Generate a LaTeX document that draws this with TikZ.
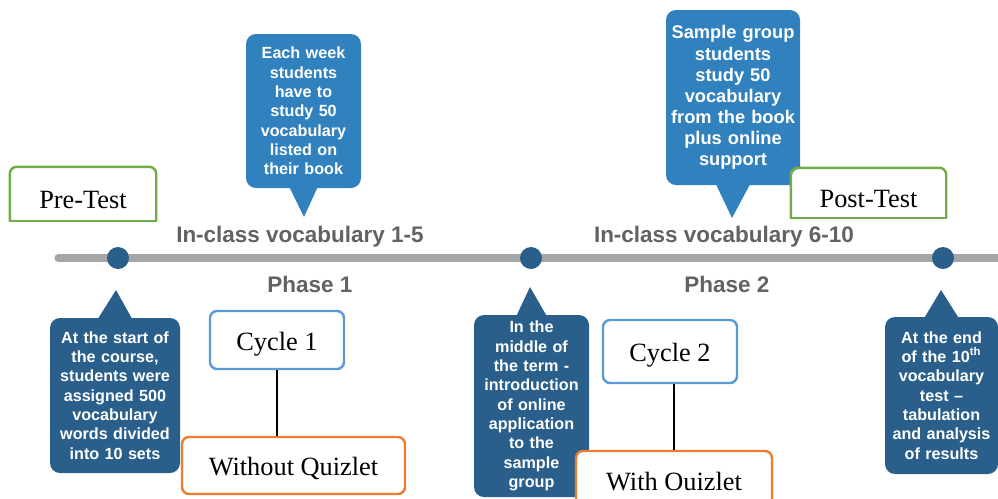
\documentclass[tikz,border=0pt]{standalone}
\usepackage{fontspec}
\setmainfont{Liberation Serif}
\setsansfont{Liberation Sans}
\usetikzlibrary{calc,positioning}
\newdimen\px \px=0.02cm
\definecolor{calloutblue}{HTML}{3181BF}
\definecolor{calloutdark}{HTML}{2A5F8B}
\definecolor{linegray}{HTML}{A6A6A6}
\definecolor{labelgray}{HTML}{626262}
\definecolor{testgreen}{HTML}{70AD47}
\definecolor{cycleblue}{HTML}{5B9BD5}
\definecolor{quizorange}{HTML}{ED7D31}
\tikzset{
  callout/.style={rounded corners=10\px, inner sep=0pt, align=center, text=white,
    font=\sffamily\bfseries\fontsize{9.2}{11}\selectfont},
  upper/.style={callout, fill=calloutblue},
  lower/.style={callout, fill=calloutdark},
  phase/.style={font=\sffamily\bfseries\fontsize{12.8}{15}\selectfont, text=labelgray, inner sep=0pt, anchor=base},
  dot/.style={circle, fill=calloutdark, minimum size=22\px, inner sep=0pt},
  timeline/.style={line width=4pt, linegray, line cap=round},
  textbox/.style={fill=white, rounded corners=7\px, line width=1.4pt, inner sep=0pt,
    font=\fontsize{15}{18}\selectfont, text height=20\px, text depth=0pt},
  testbox/.style={textbox, text height=28\px},
  testline/.style={testgreen, line width=1.4pt},
  link/.style={line width=1.2pt}
}
\begin{document}
\begin{tikzpicture}[x=0.02cm,y=-0.02cm]
  \useasboundingbox (0,0) rectangle (998,498);
  \clip (0,0) rectangle (998,498);
  % timeline
  \coordinate (L) at (58,258);
  \coordinate (R) at (1010,258);
  \draw[timeline] (L) -- (R);
  \node[dot] (d1) at (118,258) {};
  \node[dot] (d2) at (531,258) {};
  \node[dot] (d3) at (943,258) {};
  % labels
  \node[phase] (voc1) at (300,242) {In-class vocabulary 1-5};
  \node[phase] (ph1) at (310,292) {Phase 1};
  \node[phase] (voc2) at (724,242) {In-class vocabulary 6-10};
  \node[phase] (ph2) at (727,292) {Phase 2};
  % upper callouts
  \node[upper, minimum width=115\px, minimum height=154\px, text width=110\px] (week) at (303.5,111)
    {Each week\\students\\have to\\study 50\\vocabulary\\listed on\\their book};
  \coordinate (weektip) at (304,217);
  \fill[calloutblue] ($(week.south)+(-14,-1)$) -- (weektip) -- ($(week.south)+(14,-1)$) -- cycle;
  \node[upper, minimum width=134\px, minimum height=175\px, text width=130\px,
    font=\sffamily\bfseries\fontsize{10.4}{12}\selectfont] (sample) at (733,97.5)
    {Sample group\\students\\study 50\\vocabulary\\from the book\\plus online\\support};
  \coordinate (sampletip) at (732,218);
  \fill[calloutblue] ($(sample.south)+(-17,-1)$) -- (sampletip) -- ($(sample.south)+(17,-1)$) -- cycle;
  % lower callouts
  \node[lower, minimum width=130\px, minimum height=155\px, text width=126\px] (start) at (115,395.5)
    {At the start of\\the course,\\students were\\assigned 500\\vocabulary\\words divided\\into 10 sets};
  \coordinate (starttip) at (116,290);
  \fill[calloutdark] ($(start.north)+(-17,1)$) -- (starttip) -- ($(start.north)+(17,1)$) -- cycle;
  \node[lower, minimum width=115\px, minimum height=182\px, text width=111\px] (middle) at (531.5,406)
    {In the\\middle of\\the term -\\introduction\\of online\\application\\to the\\sample\\group};
  \coordinate (middletip) at (530,287);
  \fill[calloutdark] ($(middle.north)+(-15,1)$) -- (middletip) -- ($(middle.north)+(15,1)$) -- cycle;
  \node[lower, minimum width=113\px, minimum height=157\px, text width=109\px] (finish) at (941.5,395.5)
    {At the end\\of the 10\textsuperscript{th}\\vocabulary\\test --\\tabulation\\and analysis\\of results};
  \coordinate (finishtip) at (941,290);
  \fill[calloutdark] ($(finish.north)+(-17,1)$) -- (finishtip) -- ($(finish.north)+(17,1)$) -- cycle;
  % tests
  \node[testbox, minimum width=144\px, minimum height=52\px] (pre) at (83,194) {Pre-Test};
  \draw[testline, rounded corners=7\px] (pre.south west) -- (pre.north west) -- (pre.north east) -- (pre.south east);
  \draw[testline, line cap=rect] (pre.south west) -- (pre.south east);
  \node[testbox, minimum width=153\px, minimum height=48\px] (post) at (868.5,193) {Post-Test};
  \draw[testline, rounded corners=7\px] (post.south west) -- (post.north west) -- (post.north east) -- (post.south east);
  \draw[testline, line cap=rect] (post.south west) -- (post.south east);
  % cycles
  \node[textbox, draw=cycleblue, minimum width=134\px, minimum height=58\px] (c1) at (277,340) {Cycle 1};
  \node[textbox, draw=quizorange, minimum width=223\px, minimum height=57\px] (wq) at (293.5,465.5) {Without Quizlet};
  \draw[link] (c1.south) -- (c1.south |- wq.north);
  \node[textbox, draw=cycleblue, minimum width=134\px, minimum height=63\px] (c2) at (670,351.5) {Cycle 2};
  \node[textbox, draw=quizorange, minimum width=196\px, minimum height=58\px] (wo) at (674,480) {With Ouizlet};
  \draw[link] (c2.south -| wo.north) -- (wo.north);
\end{tikzpicture}
\end{document}
